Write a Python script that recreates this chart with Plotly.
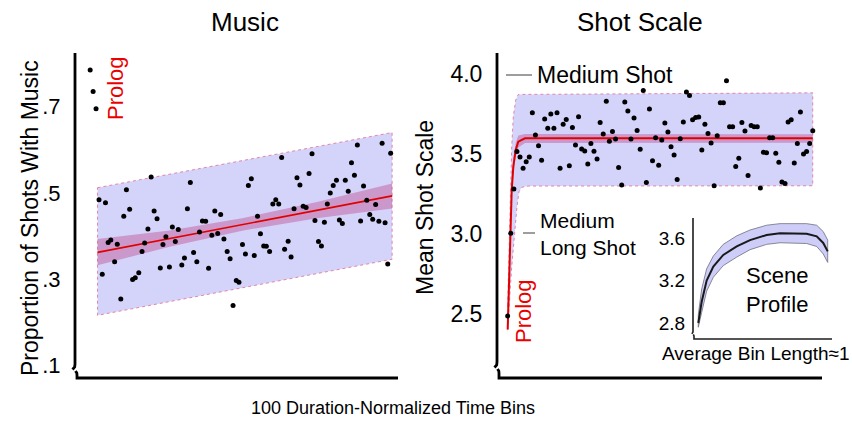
import plotly.graph_objects as go

W, H = 852, 421
FONT = "Liberation Sans, Arial, sans-serif"

# ---------------- Music panel data ----------------
music_prolog_x = [-2, -1, 0]
music_prolog_y = [0.785, 0.735, 0.695]
music_x = [1, 2.1, 3.2, 4.1, 5.0, 6.3, 7.2, 8.4, 9.4, 10.3, 11.4, 12.4, 13.3, 14.5, 15.6,
           16.5, 17.6, 18.7, 19.7, 20.7, 21.8, 22.7, 23.7, 24.9, 25.9, 26.9, 27.9, 29.1,
           30.0, 31.0, 32.0, 33.1, 34.2, 35.1, 36.1, 37.2, 38.2, 39.3, 40.3, 41.3, 42.3,
           43.4, 44.5, 45.5, 46.5, 47.6, 48.5, 49.7, 50.7, 51.7, 52.7, 53.7, 54.8, 55.8,
           56.9, 57.8, 58.9, 60.0, 61.0, 62.0, 63.0, 64.0, 65.2, 66.2, 67.2, 68.2, 69.2,
           70.3, 71.3, 72.3, 73.3, 74.3, 75.5, 76.5, 77.5, 78.5, 79.5, 80.5, 81.6, 82.6,
           83.6, 84.6, 85.6, 86.7, 87.7, 88.7, 89.8, 90.8, 91.9, 92.9, 93.9, 94.9, 96.0,
           97.1, 98.1, 99.0, 100.0]
music_y = [0.484, 0.311, 0.477, 0.385, 0.391, 0.340, 0.381, 0.254, 0.446, 0.507, 0.462,
           0.299, 0.303, 0.315, 0.364, 0.384, 0.416, 0.537, 0.458, 0.440, 0.326, 0.380,
           0.398, 0.328, 0.421, 0.387, 0.415, 0.333, 0.349, 0.463, 0.524, 0.362, 0.340,
           0.409, 0.435, 0.434, 0.325, 0.402, 0.458, 0.406, 0.450, 0.393, 0.364, 0.347,
           0.239, 0.297, 0.293, 0.380, 0.358, 0.517, 0.533, 0.355, 0.446, 0.405, 0.377,
           0.376, 0.364, 0.474, 0.484, 0.474, 0.582, 0.369, 0.388, 0.351, 0.463, 0.535,
           0.518, 0.469, 0.466, 0.545, 0.591, 0.436, 0.387, 0.377, 0.432, 0.474, 0.500,
           0.517, 0.529, 0.437, 0.429, 0.529, 0.504, 0.570, 0.541, 0.611, 0.435, 0.516,
           0.483, 0.450, 0.439, 0.473, 0.434, 0.615, 0.431, 0.335, 0.592]
music_fit_x = [0.5, 100.5]
music_fit_y = [0.362, 0.493]
music_ci_x = [0.5, 25, 50, 75, 100.5]
music_ci_hi = [0.393, 0.413, 0.442, 0.479, 0.522]
music_ci_lo = [0.332, 0.375, 0.413, 0.441, 0.464]
music_pi_x = [0.5, 100.5]
music_pi_hi = [0.512, 0.640]
music_pi_lo = [0.216, 0.346]

# ---------------- Shot scale panel data ----------------
shot_x = list(range(1, 101))
shot_y = [2.484, 3.002, 3.28, 3.514, 3.48, 3.41, 3.45, 3.48, 3.758, 3.618, 3.55, 3.46,
          3.718, 3.66, 3.75, 3.66, 3.758, 3.41, 3.685, 3.715, 3.425, 3.665, 3.556, 3.733,
          3.53, 3.517, 3.436, 3.564, 3.516, 3.468, 3.697, 3.624, 3.829, 3.579, 3.64,
          3.593, 3.415, 3.305, 3.825, 3.768, 3.593, 3.724, 3.646, 3.528, 3.896, 3.32,
          3.78, 3.457, 3.60, 3.428, 3.586, 3.693, 3.636, 3.545, 3.493, 3.34, 3.595, 3.70,
          3.888, 3.865, 3.713, 3.727, 3.73, 3.524, 3.685, 3.628, 3.568, 3.30, 3.613, 3.82,
          3.82, 3.958, 3.67, 3.67, 3.42, 3.473, 3.697, 3.643, 3.365, 3.678, 3.67, 3.67,
          3.286, 3.51, 3.507, 3.60, 3.60, 3.503, 3.447, 3.324, 3.314, 3.70, 3.713, 3.443,
          3.565, 3.762, 3.499, 3.514, 3.564, 3.645]
shot_fit_x = [1, 1.42, 1.84, 2.30, 2.82, 3.60, 4.44, 6.61, 100]
shot_fit_y = [2.40, 2.71, 3.00, 3.27, 3.42, 3.524, 3.576, 3.597, 3.597]
shot_ci_hi = [2.45, 2.76, 3.05, 3.32, 3.47, 3.57, 3.615, 3.624, 3.622]
shot_ci_lo = [2.36, 2.66, 2.95, 3.22, 3.37, 3.48, 3.54, 3.568, 3.570]
shot_pi_hi_x = [1, 1.5, 1.98, 2.30, 2.82, 3.60, 4.44, 100]
shot_pi_hi = [2.55, 2.95, 3.336, 3.545, 3.733, 3.837, 3.872, 3.882]
shot_pi_lo_x = [1, 2.30, 2.82, 3.37, 4.02, 4.67, 5.54, 7.69, 100]
shot_pi_lo = [2.40, 2.79, 2.879, 3.023, 3.17, 3.263, 3.29, 3.298, 3.30]

# ---------------- Inset: scene profile ----------------
scene_x = [1, 3.6, 7.4, 12.5, 20.1, 30.4, 40.6, 53.3, 63.5, 73.7, 83.9, 91.6, 96.6, 100]
scene_y = [2.80, 3.00, 3.20, 3.33, 3.44, 3.52, 3.58, 3.628, 3.645, 3.645, 3.64, 3.615, 3.553, 3.474]
scene_hi = [2.88, 3.12, 3.31, 3.43, 3.54, 3.62, 3.675, 3.72, 3.735, 3.737, 3.735, 3.72, 3.66, 3.58]
scene_lo = [2.76, 2.90, 3.10, 3.23, 3.34, 3.42, 3.49, 3.54, 3.555, 3.555, 3.548, 3.52, 3.45, 3.37]

music_ticks = [0.1, 0.3, 0.5, 0.7]
music_ticktext = [".1", ".3", ".5", ".7"]
shot_ticks = [2.5, 3.0, 3.5, 4.0]
shot_ticktext = ["2.5", "3.0", "3.5", "4.0"]
scene_ticks = [2.8, 3.2, 3.6]
scene_ticktext = ["2.8", "3.2", "3.6"]

BLUE = "rgb(212,212,250)"
BAND_EDGE = "rgba(225,90,130,0.7)"
PINK = "rgba(190,70,140,0.42)"
RED = "rgb(225,0,0)"


def px(x):
    return x / W


def py(y):
    return 1 - y / H


fig = go.Figure()


def band(xs_hi, hi, xs_lo, lo, color, xa, ya, edge=None, dash="dot"):
    xs = list(xs_hi) + list(xs_lo)[::-1]
    ys = list(hi) + list(lo)[::-1]
    fig.add_trace(go.Scatter(
        x=xs + [xs[0]], y=ys + [ys[0]], mode="lines", fill="toself", fillcolor=color,
        line=dict(color=edge or "rgba(0,0,0,0)", width=1, dash=dash),
        xaxis=xa, yaxis=ya, hoverinfo="skip", showlegend=False))


# Music panel
band(music_pi_x, music_pi_hi, music_pi_x, music_pi_lo, BLUE, "x", "y", BAND_EDGE)
band(music_ci_x, music_ci_hi, music_ci_x, music_ci_lo, PINK, "x", "y")
fig.add_trace(go.Scatter(x=music_fit_x, y=music_fit_y, mode="lines",
                         line=dict(color=RED, width=1.6), xaxis="x", yaxis="y", showlegend=False))
fig.add_trace(go.Scatter(x=music_x + music_prolog_x, y=music_y + music_prolog_y, mode="markers",
                         marker=dict(color="black", size=5), xaxis="x", yaxis="y", showlegend=False))

# Shot scale panel
band(shot_pi_hi_x, shot_pi_hi, shot_pi_lo_x, shot_pi_lo, BLUE, "x2", "y2", BAND_EDGE)
band(shot_fit_x, shot_ci_hi, shot_fit_x, shot_ci_lo, PINK, "x2", "y2")
fig.add_trace(go.Scatter(x=shot_fit_x, y=shot_fit_y, mode="lines",
                         line=dict(color=RED, width=2), xaxis="x2", yaxis="y2", showlegend=False))
fig.add_trace(go.Scatter(x=shot_x, y=shot_y, mode="markers",
                         marker=dict(color="black", size=5), xaxis="x2", yaxis="y2", showlegend=False))

# Inset
band(scene_x, scene_hi, scene_x, scene_lo, "rgb(205,205,248)", "x3", "y3", "rgba(110,110,130,0.8)", "solid")
fig.add_trace(go.Scatter(x=scene_x, y=scene_y, mode="lines", line=dict(color="rgb(25,25,25)", width=2),
                         xaxis="x3", yaxis="y3", showlegend=False))


# ---- Broken axis frames: decoration drawn on a full-figure overlay in pixel units ----
def frame(xa, ytop, ybot, xend, ybase, s=1.0):
    xs = [xa, xa, xa - 0.3 * s, xa - 2.5 * s, None,
          xa + 0.5 * s, xa + 1.8 * s, xa + 2 * s, xa + 2 * s, xend]
    ys = [ytop, ybot, ybot + 3 * s, ybot + 5.5 * s, None,
          ybot + 7 * s, ybot + 9 * s, ybot + 11 * s, ybase, ybase]
    return xs, ys


for fx, fy, lw, col in [
    (*frame(75, 53, 364, 398, 378), 2.8, "black"),
    (*frame(497, 53, 362, 822, 378), 2.8, "black"),
    (*frame(693, 218, 331, 832, 339, 0.5), 1.6, "rgb(30,30,30)"),
]:
    fig.add_trace(go.Scatter(x=fx, y=fy, mode="lines", line=dict(color=col, width=lw, simplify=False),
                             connectgaps=False, xaxis="x4", yaxis="y4", hoverinfo="skip",
                             showlegend=False, cliponaxis=False))
# label leader lines
for lx, ly in [([506, 532], [75, 75]), ([523, 535], [233, 233])]:
    fig.add_trace(go.Scatter(x=lx, y=ly, mode="lines", line=dict(color="rgb(60,60,60)", width=1),
                             xaxis="x4", yaxis="y4", hoverinfo="skip", showlegend=False))

hidden_x = dict(showline=False, showgrid=False, zeroline=False, showticklabels=False, ticks="",
                automargin=False)


def yax(domain, rng, tv, tt, size, ticklen, anchor=None):
    d = dict(domain=domain, range=rng, showline=False, showgrid=False, zeroline=False,
             tickvals=tv, ticktext=tt, ticks="outside", ticklen=ticklen,
             tickcolor="rgba(0,0,0,0)", tickfont=dict(size=size, family=FONT), automargin=False)
    if anchor:
        d["anchor"] = anchor
    return d


fig.update_layout(
    width=W, height=H, margin=dict(l=0, r=0, t=0, b=0, pad=0, autoexpand=False),
    paper_bgcolor="white", plot_bgcolor="rgba(0,0,0,0)", showlegend=False,
    font=dict(family=FONT, color="black"),
    xaxis=dict(domain=[px(75), px(398)], range=[-7.15, 102.49], **hidden_x),
    yaxis=yax([py(366), py(53)], [0.0985, 0.8244], music_ticks, music_ticktext, 22, 9),
    xaxis2=dict(domain=[px(497), px(822)], range=[-2.47, 103.0], anchor="y2", **hidden_x),
    yaxis2=yax([py(363), py(53)], [2.190, 4.1315], shot_ticks, shot_ticktext, 23, 9, "x2"),
    xaxis3=dict(domain=[px(693), px(832)], range=[-3.05, 103.3], anchor="y3", **hidden_x),
    yaxis3=yax([py(332), py(218)], [2.715, 3.788], scene_ticks, scene_ticktext, 19, 3, "x3"),
    xaxis4=dict(domain=[0, 1], range=[0, W], anchor="y4", **hidden_x),
    yaxis4=dict(domain=[0, 1], range=[H, 0], anchor="x4", **hidden_x),
)


def ann(text, x, y, size, color="black", angle=0, xanchor="center", align="center"):
    fig.add_annotation(text=text, x=px(x), y=py(y), xref="paper", yref="paper", showarrow=False,
                       font=dict(size=size, color=color, family=FONT), textangle=angle,
                       xanchor=xanchor, yanchor="middle", align=align)


ann("Music", 245, 22, 26)
ann("Shot Scale", 640, 22, 26)
ann("Proportion of Shots With Music", 30, 218, 23, angle=-90)
ann("Mean Shot Scale", 425, 208, 23, angle=-90)
ann("100 Duration-Normalized Time Bins", 393, 408, 18)
ann("Prolog", 115, 88, 22, color="rgb(235,0,0)", angle=-90)
ann("Prolog", 523, 311, 22, color="rgb(235,0,0)", angle=-90)
ann("Medium Shot", 535, 75, 23, xanchor="left")
ann("Medium<br>Long Shot", 538, 234, 21, xanchor="left", align="left")
ann("Scene<br>Profile", 776.7, 290, 22)
ann("Average Bin Length\u22481", 660, 353, 19, xanchor="left")

fig.write_html("out.html")
